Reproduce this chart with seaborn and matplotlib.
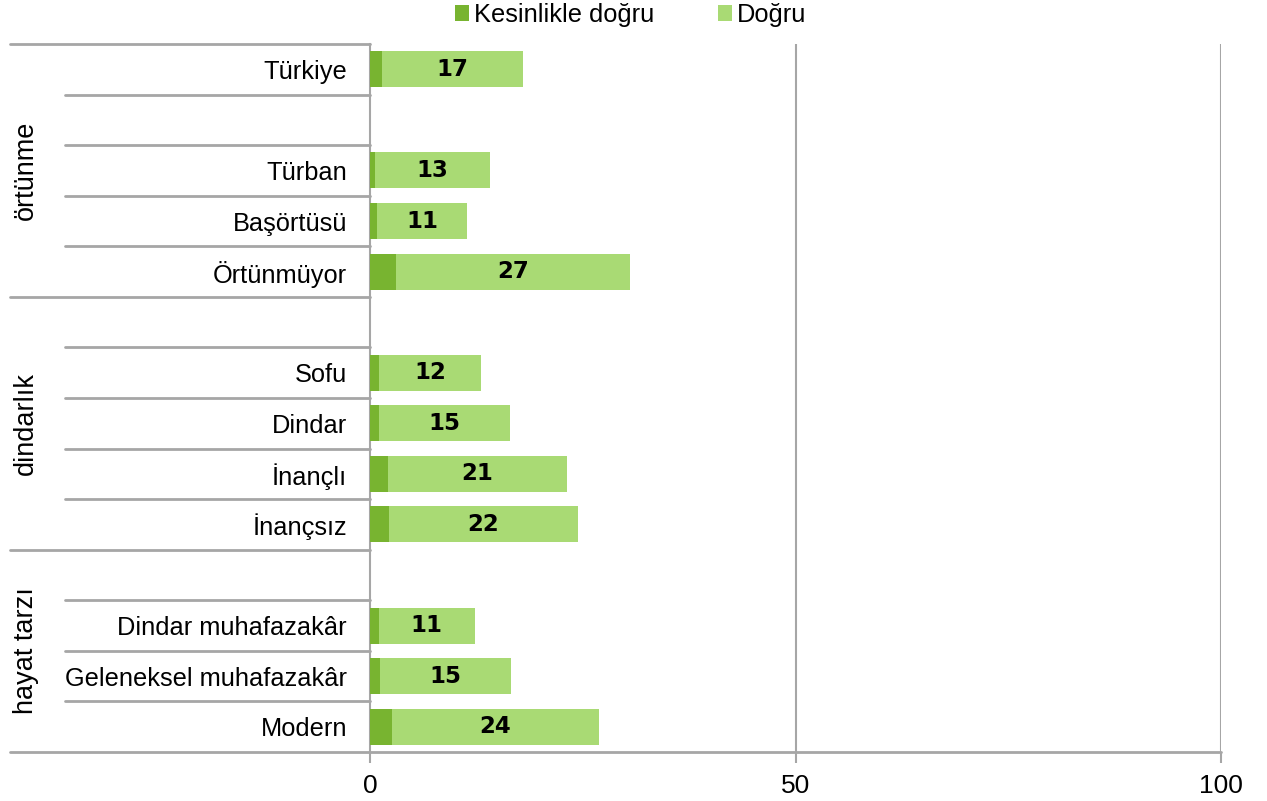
import matplotlib
matplotlib.use("Agg")
import matplotlib.pyplot as plt
import matplotlib.transforms as mtransforms
from matplotlib.patches import Patch
import seaborn as sns
import pandas as pd

# ---- data ----
rows = ["Türkiye", " ", "Türban", "Başörtüsü", "Örtünmüyor", "  ",
        "Sofu", "Dindar", "İnançlı", "İnançsız", "   ",
        "Dindar muhafazakâr", "Geleneksel muhafazakâr", "Modern"]
categories = ["Türkiye", "Türban", "Başörtüsü", "Örtünmüyor",
              "Sofu", "Dindar", "İnançlı", "İnançsız",
              "Dindar muhafazakâr", "Geleneksel muhafazakâr", "Modern"]
kesinlikle = [1.4, 0.6, 0.8, 3.1, 1.1, 1.1, 2.1, 2.2, 1.0, 1.2, 2.6]
dogru = [16.6, 13.5, 10.6, 27.4, 11.9, 15.3, 21.0, 22.2, 11.3, 15.4, 24.3]
value_labels = ["17", "13", "11", "27", "12", "15", "21", "22", "11", "15", "24"]
groups = ["örtünme", "dindarlık", "hayat tarzı"]
group_rows = [(0, 4), (5, 9), (10, 13)]
x_ticks = [0, 50, 100]
series_names = ["Kesinlikle doğru", "Doğru"]

DARK = "#78B430"
LIGHT = "#A9DA74"
GRID = "#A6A6A6"

df = pd.DataFrame({"cat": categories, "dark": kesinlikle, "light": dogru})
df["total"] = df["dark"] + df["light"]

sns.set_theme(style="white")
plt.rcParams["font.family"] = ["Liberation Sans", "DejaVu Sans"]
plt.rcParams["text.color"] = "#000000"

fig = plt.figure(figsize=(12.67, 8.01), dpi=100)
ax = fig.add_axes([370 / 1267, 1 - 752 / 801, (1221 - 370) / 1267, (752 - 44) / 801])

sns.barplot(data=df, y="cat", x="total", order=rows, orient="h", color=LIGHT,
            saturation=1, width=0.71, ax=ax, zorder=3, linewidth=0)
sns.barplot(data=df, y="cat", x="dark", order=rows, orient="h", color=DARK,
            saturation=1, width=0.71, ax=ax, zorder=4, linewidth=0)

ax.set_xlim(0, 100)
ax.set_ylim(13.5, -0.5)
ax.set_xlabel("")
ax.set_ylabel("")
ax.set_xticks(x_ticks)
ax.set_xticklabels([str(t) for t in x_ticks], fontsize=19, color="#000000")
ax.tick_params(axis="x", length=8, width=1.5, color=GRID, pad=8, direction="out", bottom=True)
ax.tick_params(axis="y", length=0, pad=16.5)
ax.set_yticks(range(len(rows)))
ax.set_yticklabels(rows, fontsize=18.3, color="#000000")

for s in ["top", "right"]:
    ax.spines[s].set_visible(False)
ax.spines["left"].set_color(GRID)
ax.spines["left"].set_linewidth(1.5)
ax.spines["bottom"].set_visible(False)

# vertical gridlines
for t in x_ticks[1:]:
    ax.axvline(t, color=GRID, lw=1.5, zorder=1)

# value labels centred in the light segment
for i, c in enumerate(categories):
    y = rows.index(c)
    xc = kesinlikle[i] + dogru[i] / 2
    ax.text(xc, y, value_labels[i], ha="center", va="center", fontsize=16.5,
            fontweight="bold", family="DejaVu Sans", color="#000000", zorder=5)

# separator lines in label area
trans = mtransforms.blended_transform_factory(ax.transAxes, ax.transData)
x_long = (10 - 370) / 851
x_short = (65 - 370) / 851
long_bounds = [-0.5, 4.5, 9.5]
for b in [k + 0.5 for k in range(-1, 14)]:
    x0 = x_long if b in long_bounds else x_short
    if b == 13.5:
        ax.plot([x_long, 1.0], [b, b], transform=trans, color=GRID, lw=2, clip_on=False, zorder=2)
    else:
        ax.plot([x0, 0], [b, b], transform=trans, color=GRID, lw=2, clip_on=False, zorder=2)

# group labels
x_grp = (26 - 370) / 851
for g, (a, b) in zip(groups, group_rows):
    ax.text(x_grp, (a + b) / 2, g, rotation=90, ha="center", va="center",
            fontsize=19.5, transform=trans, color="#000000")

# legend
handles = [Patch(facecolor=DARK, edgecolor="none"), Patch(facecolor=LIGHT, edgecolor="none")]
fig.legend(handles, series_names, loc="center", bbox_to_anchor=(631 / 1267, 1 - 15 / 801),
           ncol=2, frameon=False, prop={"size": 18.3}, borderpad=0, labelcolor="#000000",
           handlelength=0.55, handleheight=0.55, handletextpad=0.2, columnspacing=2.5)

fig.savefig("out.png", dpi=100)
